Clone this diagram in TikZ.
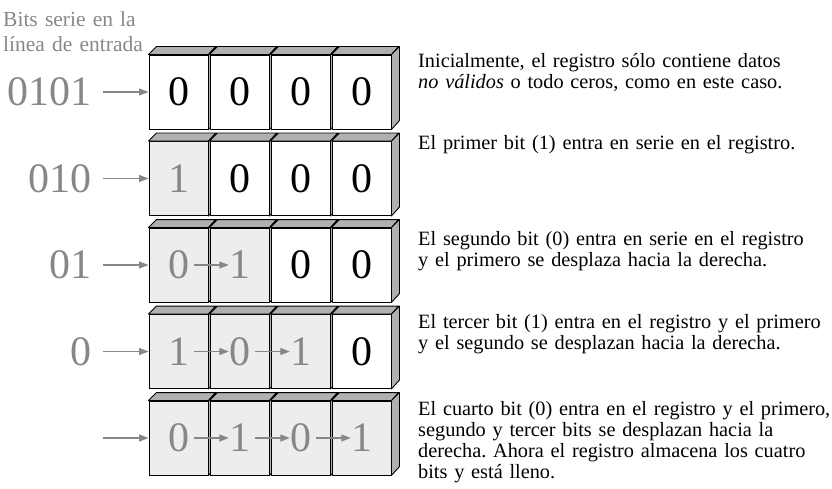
\documentclass[tikz,border=0pt]{standalone}
\usepackage{fontspec}
\setmainfont{Liberation Serif}
\usetikzlibrary{arrows.meta, positioning}
\definecolor{inkgray}{RGB}{135,135,135}
\definecolor{cellg}{RGB}{236,237,239}
\definecolor{cellw}{RGB}{255,255,255}
\definecolor{bitg}{RGB}{135,135,135}
\definecolor{bitw}{RGB}{0,0,0}
\definecolor{facegray}{RGB}{176,176,176}
\frenchspacing

\begin{document}
\begin{tikzpicture}[x=1pt, y=-1pt,
    >={Triangle[length=9.5pt, width=7pt]},
    front/.style={draw, line width=0.9pt, minimum width=59pt, minimum height=74pt, inner sep=0pt, fill=cell#1},
    face/.style={draw, line width=0.9pt, fill=facegray, line join=round},
    bit/.style={inner sep=0pt, font=\fontsize{42}{42}\selectfont, text=bit#1},
    inlabel/.style={inner sep=0pt, text=inkgray, font=\fontsize{42}{42}\selectfont},
    feed/.style={->, inkgray, line width=1.2pt},
    heading/.style={anchor=base west, inner sep=0pt, text width=200pt, align=left, text=inkgray, font=\fontsize{21.5}{25}\selectfont},
    note/.style={anchor=base west, inner sep=0pt, text width=440pt, align=left, font=\fontsize{20.3}{21}\selectfont},
  ]
  \useasboundingbox (0,0) rectangle (832,489);
  \node[heading] (title) at (3,27) {Bits serie en la\\línea de entrada};
  % register rows
  \foreach \r/\bits in {1/{0/w,0/w,0/w,0/w}, 2/{1/g,0/w,0/w,0/w}, 3/{0/g,1/g,0/w,0/w},
                        4/{1/g,0/g,1/g,0/w}, 5/{0/g,1/g,0/g,1/g}} {
    \foreach \b/\s [count=\c] in \bits {
      \node[front=\s] (c\r\c) at ({178.5+61*(\c-1)}, {92+86.5*(\r-1)}) {};
      \draw[face] (c\r\c.north west) -- ++(8,-8) -- ++(59,0) -- (c\r\c.north east) -- cycle;
      \draw[face] (c\r\c.north east) -- ++(8,-8) -- ++(0,74) -- (c\r\c.south east) -- cycle;
      \node[bit=\s] (d\r\c) at (c\r\c) {\b};
    }
  }
  % serial input
  \foreach \r in {1,...,5} {
    \coordinate (in\r) at (103, {92+86.5*(\r-1)});
    \draw[feed] (in\r) -- (c\r1.west);
  }
  \foreach \r/\lab in {1/0101, 2/010, 3/01, 4/0} {
    \node[inlabel, left=11pt of in\r] (lab\r) {\lab};
  }
  % shifts inside the register
  \foreach \r/\m in {3/1, 4/2, 5/3} {
    \foreach \c [evaluate=\c as \cc using int(\c+1)] in {1,...,\m} {
      \draw[feed, shorten <=5pt] (d\r\c.east) -- (d\r\cc.west);
    }
  }
  % descriptions
  \foreach \r/\yy/\txt in {
      1/68/{Inicialmente, el registro sólo contiene datos\\\textit{no válidos} o todo ceros, como en este caso.},
      2/150/{El primer bit (1) entra en serie en el registro.},
      3/245/{El segundo bit (0) entra en serie en el registro\\y el primero se desplaza hacia la derecha.},
      4/328/{El tercer bit (1) entra en el registro y el primero\\y el segundo se desplazan hacia la derecha.},
      5/415/{El cuarto bit (0) entra en el registro y el primero,\\segundo y tercer bits se desplazan hacia la\\derecha. Ahora el registro almacena los cuatro\\bits y está lleno.}} {
    \node[note] (note\r) at (418,\yy) {\txt};
  }
\end{tikzpicture}
\end{document}
